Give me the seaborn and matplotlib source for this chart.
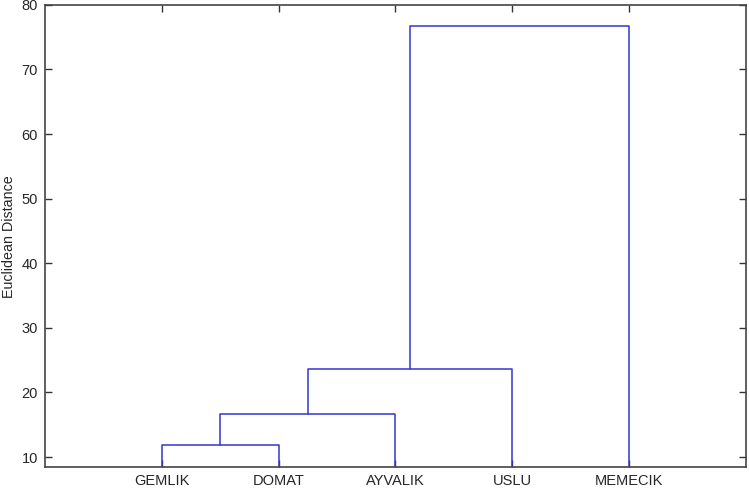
import pandas as pd
import matplotlib
matplotlib.use("Agg")
import matplotlib.pyplot as plt
import seaborn as sns

# -----------------------------
# Data
# -----------------------------
leaves = ["GEMLIK", "DOMAT", "AYVALIK", "USLU", "MEMECIK"]
# each merge joins two clusters (leaf index or previous merge "m<i>")
merge_left = ["GEMLIK", "m0", "m1", "m2"]
merge_right = ["DOMAT", "AYVALIK", "USLU", "MEMECIK"]
merge_height = [11.8, 16.6, 23.7, 76.8]
y_ticks = [10, 20, 30, 40, 50, 60, 70, 80]

# -----------------------------
# Build the segments of the tree
# -----------------------------
pos = {name: (i + 1, 0.0) for i, name in enumerate(leaves)}
bottom = 8.45
rows = []
for i, (a, b, h) in enumerate(zip(merge_left, merge_right, merge_height)):
    xa, ya = pos[a]
    xb, yb = pos[b]
    ya = ya if ya > 0 else bottom
    yb = yb if yb > 0 else bottom
    seg = f"link{i}"
    for x, y in [(xa, ya), (xa, h), (xb, h), (xb, yb)]:
        rows.append({"segment": seg, "x": x, "y": y})
    pos[f"m{i}"] = ((xa + xb) / 2, h)

tree = pd.DataFrame(rows)

# -----------------------------
# Plot
# -----------------------------
sns.set_style("white")
plt.rcParams["font.family"] = ["Liberation Sans", "DejaVu Sans"]

fig = plt.figure(figsize=(7.49, 4.88), dpi=100)
ax = fig.add_axes([0.060, 0.043, 0.936, 0.947])

sns.lineplot(data=tree, x="x", y="y", units="segment", estimator=None,
             sort=False, color="#3535d0", linewidth=1.1, ax=ax, legend=False)

ax.set_xlim(0, len(leaves) + 1)
ax.set_ylim(bottom, 80)
ax.set_xticks(range(1, len(leaves) + 1))
ax.set_xticklabels(leaves, fontsize=10.5)
ax.set_yticks(y_ticks)
ax.set_yticklabels([str(t) for t in y_ticks], fontsize=10.5)
ax.set_xlabel("")
ax.set_ylabel("")
fig.text(0.012, 0.515, "Euclidean Distance", rotation=90,
         ha="center", va="center", fontsize=10.3)

ax.tick_params(direction="in", length=5, width=1, color="#333333",
               top=True, right=True, bottom=True, left=True, pad=5)
for side in ax.spines.values():
    side.set_visible(True)
    side.set_color("#444444")
    side.set_linewidth(1.2)

fig.savefig("out.png", dpi=100)
